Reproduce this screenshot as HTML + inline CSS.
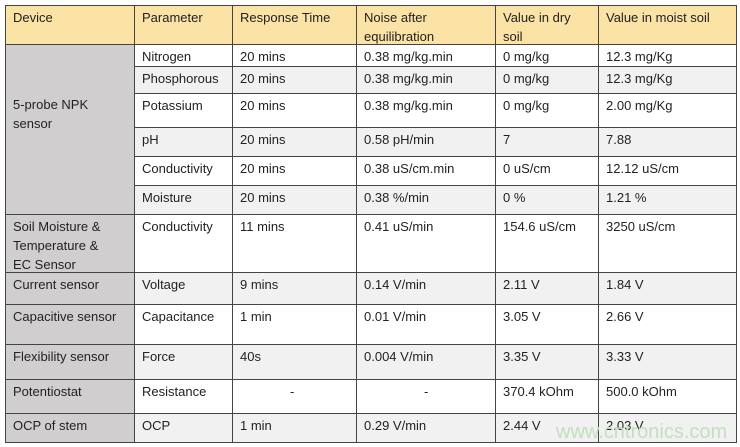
<!DOCTYPE html>
<html><head><meta charset="utf-8"><style>
body{margin:0;background:#fff;width:740px;height:447px;overflow:hidden;position:relative;font-family:"Liberation Sans",sans-serif;font-size:13px;color:#222}
.c{position:absolute;box-sizing:border-box;border:1px solid #444;padding:2px 0 0 7px;line-height:19px;overflow:hidden;white-space:nowrap}
.h{background:#fbe3a6}
.g{background:#f1f1f1}
.w{background:#fff}
.d{background:#d0cece}
.wm{position:absolute;left:556px;top:421px;font-size:20px;color:#c2e0bd;font-family:"Liberation Sans",sans-serif}
</style></head><body>
<div id="t"></div>
<script>
const X=[5,134,232,356,495,598,736];
const rows=[
[5,44,'h',["Device","Parameter","Response Time","Noise after<br>equilibration","Value in dry<br>soil","Value in moist soil"]],
[44,66,'w',[null,"Nitrogen","20 mins","0.38 mg/kg.min","0 mg/kg","12.3 mg/Kg"]],
[66,93,'g',[null,"Phosphorous","20 mins","0.38 mg/kg.min","0 mg/kg","12.3 mg/Kg"]],
[93,127,'w',[null,"Potassium","20 mins","0.38 mg/kg.min","0 mg/kg","2.00 mg/Kg"]],
[127,156,'g',[null,"pH","20 mins","0.58 pH/min","7","7.88"]],
[156,185,'w',[null,"Conductivity","20 mins","0.38 uS/cm.min","0 uS/cm","12.12 uS/cm"]],
[185,214,'g',[null,"Moisture","20 mins","0.38 %/min","0 %","1.21 %"]],
[214,272,'w',["Soil Moisture &amp;<br>Temperature &amp;<br>EC Sensor","Conductivity","11 mins","0.41 uS/min","154.6 uS/cm","3250 uS/cm"]],
[272,304,'g',["Current sensor","Voltage","9 mins","0.14 V/min","2.11 V","1.84 V"]],
[304,344,'w',["Capacitive sensor","Capacitance","1 min","0.01 V/min","3.05 V","2.66 V"]],
[344,379,'g',["Flexibility sensor","Force","40s","0.004 V/min","3.35 V","3.33 V"]],
[379,413,'w',["Potentiostat","Resistance","<span style='padding-left:50px'>-</span>","<span style='padding-left:60px'>-</span>","370.4 kOhm","500.0 kOhm"]],
[413,442,'g',["OCP of stem","OCP","1 min","0.29 V/min","2.44 V","2.03 V"]]
];
let h='';
rows.forEach(([y0,y1,cls,cells])=>{
 cells.forEach((t,i)=>{
  if(t===null)return;
  let c=cls; if(i==0&&cls!='h')c='d';
  h+=`<div class="c ${c}" style="left:${X[i]}px;top:${y0}px;width:${X[i+1]-X[i]+1}px;height:${y1-y0+1}px">${t}</div>`;
 });
});
h+=`<div class="c d" style="left:5px;top:44px;width:130px;height:171px;padding-top:50px">5-probe NPK<br>sensor</div>`;
document.getElementById('t').innerHTML=h;
</script>
<div class="wm">www.cntronics.com</div>
</body></html>
